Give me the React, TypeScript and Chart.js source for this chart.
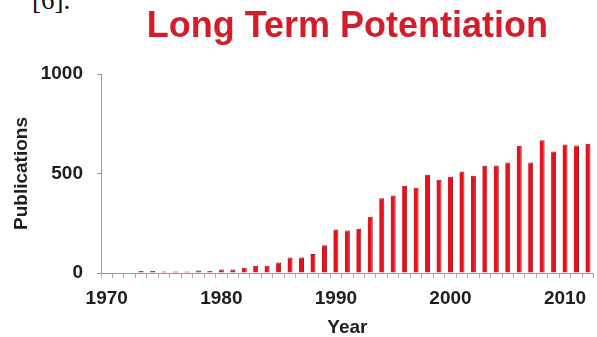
import React, { useEffect, useRef } from "react";
import { Chart, registerables } from "chart.js";

Chart.register(...registerables);

const years: string[] = [];
for (let y = 1970; y <= 2012; y++) years.push(String(y));

const publications: number[] = [
  0, 0, 0, 10, 10, 8, 8, 8, 12, 10,
  17, 17, 27, 37, 37, 53, 78, 78, 96, 139,
  219, 214, 222, 283, 376, 389, 439, 429, 494, 468,
  484, 510, 489, 539, 540, 555, 639, 555, 667, 610,
  646, 641, 650,
];

const yTicks = [0, 500, 1000];

const chartTitle = "Long Term Potentiation";
const xTitle = "Year";
const yTitle = "Publications";

const FONT = "'Liberation Sans', Arial, sans-serif";

export default function App() {
  const canvasRef = useRef<HTMLCanvasElement | null>(null);

  useEffect(() => {
    const canvas = canvasRef.current;
    if (!canvas) return;
    const chart = new Chart(canvas, {
      type: "bar",
      data: {
        labels: years,
        datasets: [
          {
            data: publications,
            backgroundColor: "#e3121f",
            borderColor: "#9c1a1f",
            borderWidth: { top: 1, right: 1, left: 0, bottom: 0 },
            borderSkipped: "bottom",
            barPercentage: 0.44,
            categoryPercentage: 1,
          },
        ],
      },
      options: {
        responsive: false,
        animation: false,
        devicePixelRatio: 1,
        layout: { padding: { left: 0, right: 2.5, top: 0, bottom: 0 } },
        plugins: {
          legend: { display: false },
          tooltip: { enabled: false },
          title: {
            display: true,
            text: chartTitle,
            fullSize: false,
            color: "#d41c2a",
            font: { family: FONT, size: 36, weight: "bold", lineHeight: 1 },
            padding: { top: 9, bottom: 29 },
          },
        },
        scales: {
          x: {
            type: "category",
            offset: true,
            afterFit: (scale: any) => {
              scale.height = 64;
            },
            border: { display: true, color: "#9a9a9a", width: 1 },
            grid: {
              display: true,
              offset: true,
              drawOnChartArea: false,
              drawTicks: true,
              tickLength: 5,
              color: "#b0b0b0",
            },
            ticks: {
              autoSkip: false,
              maxRotation: 0,
              minRotation: 0,
              padding: 9,
              color: "#1e1e1e",
              font: { family: FONT, size: 19, weight: "bold" },
              callback: (_v: any, i: number) => {
                const y = Number(years[i]);
                return y % 10 === 0 ? years[i] : "";
              },
            },
            title: {
              display: true,
              text: xTitle,
              color: "#1e1e1e",
              font: { family: FONT, size: 19, weight: "bold", lineHeight: 1 },
              padding: { top: 0, bottom: 0 },
            },
          },
          y: {
            min: 0,
            max: 1000,
            afterFit: (scale: any) => {
              scale.width = 101;
            },
            afterBuildTicks: (scale: any) => {
              scale.ticks = yTicks.map((v) => ({ value: v }));
            },
            border: { display: true, color: "#9a9a9a", width: 1 },
            grid: {
              display: true,
              drawOnChartArea: false,
              drawTicks: true,
              tickLength: 4,
              color: "#9a9a9a",
            },
            ticks: {
              padding: 14,
              color: "#1e1e1e",
              font: { family: FONT, size: 19, weight: "bold" },
              callback: (v: any) => String(v),
            },
            title: {
              display: true,
              text: yTitle,
              color: "#1e1e1e",
              font: { family: FONT, size: 19, weight: "bold", lineHeight: 1 },
              padding: { top: 12, bottom: 0 },
            },
          },
        },
      },
    });
    return () => chart.destroy();
  }, []);

  return (
    <div style={{ position: "absolute", left: 0, top: 0, width: 597, height: 337, overflow: "hidden", background: "#fff" }}>
      <span
        style={{
          position: "absolute",
          left: 32,
          top: -13,
          fontFamily: "'Liberation Serif', 'Times New Roman', serif",
          fontSize: 27,
          lineHeight: "27px",
          color: "#111",
        }}
      >
        [6].
      </span>
      <canvas ref={canvasRef} width={597} height={337} style={{ position: "absolute", left: 0, top: 0 }} />
    </div>
  );
}
